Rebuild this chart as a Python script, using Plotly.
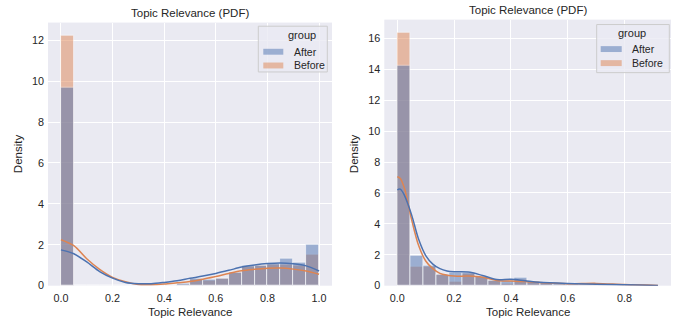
import numpy as np
import plotly.graph_objects as go

# ---------------- data ----------------
groups = ["After", "Before"]
title_text = "Topic Relevance (PDF)"
x_label = "Topic Relevance"
y_label = "Density"

# left panel histogram (20 bins, 0..1)
left_bin_start = 0.0
left_bin_width = 0.05
left_after = [9.7, 0.0, 0.0, 0.03, 0.0, 0.0, 0.0, 0.0, 0.03, 0.12,
              0.37, 0.32, 0.37, 0.65, 1.0, 0.98, 1.1, 1.31, 1.15, 2.03]
left_before = [12.25, 0.0, 0.0, 0.03, 0.0, 0.0, 0.0, 0.0, 0.02, 0.05,
               0.3, 0.25, 0.33, 0.65, 0.93, 1.0, 1.04, 1.04, 1.0, 1.5]
left_kde_x = [0, 0.05, 0.1, 0.15, 0.2, 0.25, 0.3, 0.35, 0.4, 0.45, 0.5,
              0.55, 0.6, 0.65, 0.7, 0.75, 0.8, 0.85, 0.9, 0.95, 1.0]
left_kde_after = [1.75, 1.56, 1.16, 0.69, 0.37, 0.16, 0.1, 0.1, 0.16, 0.24, 0.36,
                  0.47, 0.6, 0.75, 0.91, 1.01, 1.08, 1.11, 1.07, 0.97, 0.72]
left_kde_before = [2.25, 1.96, 1.32, 0.8, 0.41, 0.19, 0.06, 0.05, 0.08, 0.14, 0.2,
                   0.32, 0.45, 0.6, 0.73, 0.8, 0.85, 0.86, 0.81, 0.72, 0.56]
left_yticks = [0, 2, 4, 6, 8, 10, 12]
left_xticks = [0.0, 0.2, 0.4, 0.6, 0.8, 1.0]

# right panel histogram (20 bins, 0..0.918)
right_bin_start = 0.0
right_bin_width = 0.0459
right_after = [14.25, 1.97, 1.3, 0.74, 0.87, 0.87, 0.6, 0.32, 0.3, 0.55,
               0.25, 0.2, 0.12, 0.1, 0.1, 0.08, 0.06, 0.04, 0.02, 0.02]
right_before = [16.4, 1.23, 1.25, 0.74, 0.25, 0.8, 0.6, 0.32, 0.15, 0.38,
                0.25, 0.18, 0.1, 0.12, 0.15, 0.12, 0.06, 0.04, 0.02, 0.02]
right_kde_x = [0, 0.01, 0.025, 0.05, 0.075, 0.1, 0.125, 0.15, 0.175, 0.2, 0.25,
               0.3, 0.35, 0.4, 0.45, 0.5, 0.6, 0.7, 0.8, 0.918]
right_kde_after = [6.2, 6.25, 5.85, 4.6, 3.0, 1.95, 1.4, 1.1, 0.95, 0.9, 0.88,
                   0.66, 0.4, 0.42, 0.32, 0.22, 0.14, 0.1, 0.06, 0.02]
right_kde_before = [7.05, 6.95, 6.3, 4.3, 2.6, 1.6, 1.1, 0.8, 0.68, 0.62, 0.62,
                    0.55, 0.34, 0.3, 0.27, 0.2, 0.12, 0.15, 0.07, 0.02]
right_yticks = [0, 2, 4, 6, 8, 10, 12, 14, 16]
right_xticks = [0.0, 0.2, 0.4, 0.6, 0.8]

# ---------------- style ----------------
W, H = 682, 329
BLUE = "#4C72B0"
ORANGE = "#DD8452"
BG = "#EAEAF2"
TXT = "#262626"
FONT = "Liberation Sans, Arial, sans-serif"


def px(x):
    return x / W


def py(y):
    return 1 - y / H


fig = go.Figure()


def add_panel(xa, ya, start, width, after, before, kx, ka, kb):
    n = len(after)
    centers = [start + width * (i + 0.5) for i in range(n)]
    for name, vals, col in (("Before", before, ORANGE), ("After", after, BLUE)):
        fig.add_trace(go.Bar(
            x=centers, y=vals, width=width, name=name,
            marker=dict(color=col, opacity=0.5,
                        line=dict(color="rgba(255,255,255,0.9)", width=0.8)),
            xaxis=xa, yaxis=ya, showlegend=False, hoverinfo="x+y"))
    for name, vals, col in (("Before", kb, ORANGE), ("After", ka, BLUE)):
        fig.add_trace(go.Scatter(
            x=kx, y=vals, mode="lines", name=name,
            line=dict(color=col, width=1.5, shape="spline", smoothing=0.9),
            xaxis=xa, yaxis=ya, showlegend=False))


add_panel("x", "y", left_bin_start, left_bin_width, left_after, left_before,
          left_kde_x, left_kde_after, left_kde_before)
add_panel("x2", "y2", right_bin_start, right_bin_width, right_after, right_before,
          right_kde_x, right_kde_after, right_kde_before)

axis_common = dict(showgrid=True, gridcolor="white", gridwidth=1, zeroline=False,
                   showline=False, ticks="", tickfont=dict(size=10.8, color=TXT, family=FONT))

left_xmax = left_bin_start + left_bin_width * len(left_after)
right_xmax = right_bin_start + right_bin_width * len(right_after)
lm = 0.05 * (left_xmax - left_bin_start)
rm = 0.05 * (right_xmax - right_bin_start)

fig.update_layout(
    width=W, height=H, margin=dict(l=0, r=0, t=0, b=0),
    paper_bgcolor="white", plot_bgcolor=BG, barmode="overlay", bargap=0,
    font=dict(family=FONT, color=TXT),
    xaxis=dict(domain=[px(48), px(332)], anchor="y",
               range=[left_bin_start - lm, left_xmax + lm], ticklabelstandoff=5,
               tickvals=left_xticks, ticktext=[f"{v:.1f}" for v in left_xticks], **axis_common),
    yaxis=dict(domain=[py(291), py(23)], anchor="x",
               range=[0, max(left_before + left_after) * 1.05], ticklabelstandoff=3,
               tickvals=left_yticks, **axis_common),
    xaxis2=dict(domain=[px(384.3), px(671)], anchor="y2",
                range=[right_bin_start - rm, right_xmax + rm], ticklabelstandoff=5,
                tickvals=right_xticks, ticktext=[f"{v:.1f}" for v in right_xticks], **axis_common),
    yaxis2=dict(domain=[py(291), py(20)], anchor="x2",
                range=[0, max(right_before + right_after) * 1.05], ticklabelstandoff=3,
                tickvals=right_yticks, **axis_common),
)

ann = []
# titles
ann.append(dict(text=title_text, x=px(190), y=py(13), xref="paper", yref="paper",
                showarrow=False, font=dict(size=11.5, color=TXT), xanchor="center", yanchor="middle"))
ann.append(dict(text=title_text, x=px(527.6), y=py(10.5), xref="paper", yref="paper",
                showarrow=False, font=dict(size=11.5, color=TXT), xanchor="center", yanchor="middle"))
# axis labels
for cx in (190, 527.6):
    ann.append(dict(text=x_label, x=px(cx), y=py(318), xref="paper", yref="paper",
                    showarrow=False, font=dict(size=11.5, color=TXT), xanchor="center", yanchor="middle"))
for lx in (18, 354):
    ann.append(dict(text=y_label, x=px(lx), y=py(157), xref="paper", yref="paper", textangle=-90,
                    showarrow=False, font=dict(size=11.5, color=TXT), xanchor="center", yanchor="middle"))

shapes = []


def add_legend(x0, x1, y0, y1, title_x, title_y, patch_x0, patch_x1, text_x, rows_y):
    shapes.append(dict(type="rect", xref="paper", yref="paper", x0=px(x0), x1=px(x1),
                       y0=py(y1), y1=py(y0), line=dict(color="#CCCCCC", width=1),
                       fillcolor="rgba(234,234,242,0.8)", layer="above"))
    ann.append(dict(text="group", x=px(title_x), y=py(title_y), xref="paper", yref="paper",
                    showarrow=False, font=dict(size=11, color=TXT), xanchor="center", yanchor="middle"))
    for g, col, ry in zip(groups, (BLUE, ORANGE), rows_y):
        shapes.append(dict(type="rect", xref="paper", yref="paper", x0=px(patch_x0), x1=px(patch_x1),
                           y0=py(ry + 3), y1=py(ry - 3), line=dict(width=0),
                           fillcolor=col, opacity=0.5, layer="above"))
        ann.append(dict(text=g, x=px(text_x), y=py(ry), xref="paper", yref="paper",
                        showarrow=False, font=dict(size=10.5, color=TXT), xanchor="left", yanchor="middle"))


add_legend(258.3, 327.3, 26.7, 73.3, 301.7, 36, 263.3, 283.3, 291.5, (52.7, 66.7))
add_legend(596.7, 669.3, 25, 74, 631.7, 34, 600.7, 621.7, 630, (50, 64.3))

fig.update_layout(annotations=ann, shapes=shapes)
fig.write_html("out.html", config={"displayModeBar": False},
               post_script="document.body.style.margin='0px';document.body.style.overflow='hidden';")
